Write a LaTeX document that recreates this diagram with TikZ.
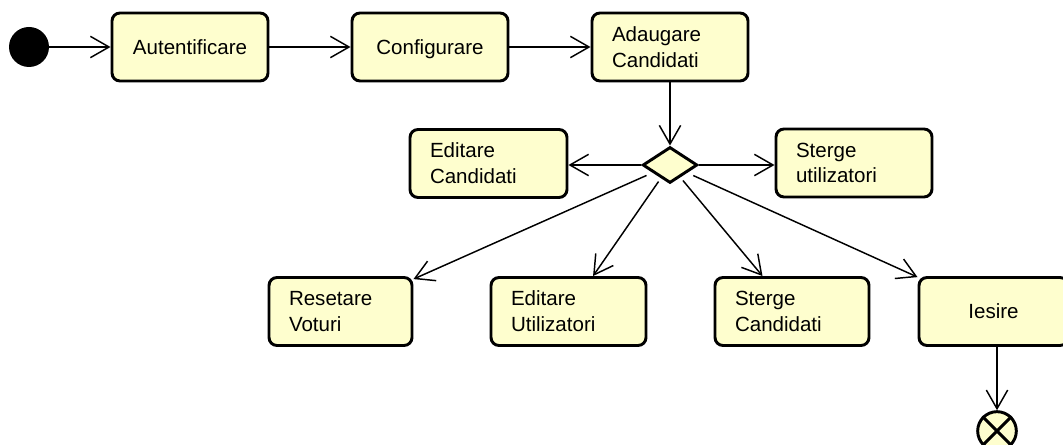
\documentclass[tikz,border=0pt]{standalone}
\usepackage{fontspec}
\setmainfont{Liberation Sans}
\usetikzlibrary{arrows.meta,shapes.geometric}
\definecolor{actfill}{RGB}{254,254,206}
\begin{document}
\begin{tikzpicture}[x=0.75pt,y=-0.75pt,
  act/.style={draw, line width=2.2pt, rounded corners=6pt, fill=actfill,
    minimum height=51pt, inner xsep=15pt, inner ysep=0pt,
    font=\fontsize{15.4}{19.3}\selectfont},
  lefttext/.style={text width=#1, align=left},
  midtext/.style={text width=#1, align=center, text height=11pt, text depth=0pt},
  flow/.style={line width=1.1pt,
    -{Straight Barb[length=14pt,width=16pt,line width=1.1pt]}},
  decision/.style={draw, diamond, line width=2.2pt, fill=actfill,
    minimum width=41pt, minimum height=27pt, inner sep=0pt},
  initial/.style={circle, fill=black, minimum size=30pt, inner sep=0pt},
  final/.style={circle, draw, line width=2.2pt, fill=actfill,
    minimum size=29pt, inner sep=0pt}
]
\useasboundingbox (0,0) rectangle (1063,445);

% top row
\node[initial] (start) at (29,47) {};
\node[act, midtext=87pt] (auth) at (190,47) {Autentificare};
\node[act, midtext=87pt] (conf) at (430,47) {Configurare};
\node[act, lefttext=87pt] (adaug) at (670,47) {Adaugare\\Candidati};

% decision and its side branches
\node[decision] (d) at (670,165) {};
\node[act, lefttext=87.75pt] (editC) at (488.5,163.5) {Editare\\Candidati};
\node[act, lefttext=87pt] (stergU) at (854,163) {Sterge\\utilizatori};

% bottom row
\node[act, lefttext=77.25pt] (reset) at (340.5,311.5) {Resetare\\Voturi};
\node[act, lefttext=86.25pt] (editU) at (568.5,311.5) {Editare\\Utilizatori};
\node[act, lefttext=85.5pt] (stergC) at (792,311.5) {Sterge\\Candidati};
\node[act, midtext=81.75pt] (iesire) at (993.5,311.5) {Iesire};

% final node
\node[final] (end) at (997,431) {};
\draw[line width=2.2pt] (end.north west) -- (end.south east)
  (end.north east) -- (end.south west);

% flows
\draw[flow] (start) -- (auth);
\draw[flow] (auth) -- (conf);
\draw[flow] (conf) -- (adaug);
\draw[flow] (adaug) -- (d);
\draw[flow] (d.west) -- (d.west -| editC.east);
\draw[flow] (d.east) -- (d.east -| stergU.west);
\draw[flow, shorten <=5pt] (d) -- (reset);
\draw[flow, shorten <=3pt] (d) -- (editU);
\draw[flow, shorten <=3pt] (d) -- (stergC);
\draw[flow, shorten <=5pt] (d) -- (iesire);
\draw[flow] (end |- iesire.south) -- (end);
\end{tikzpicture}
\end{document}
